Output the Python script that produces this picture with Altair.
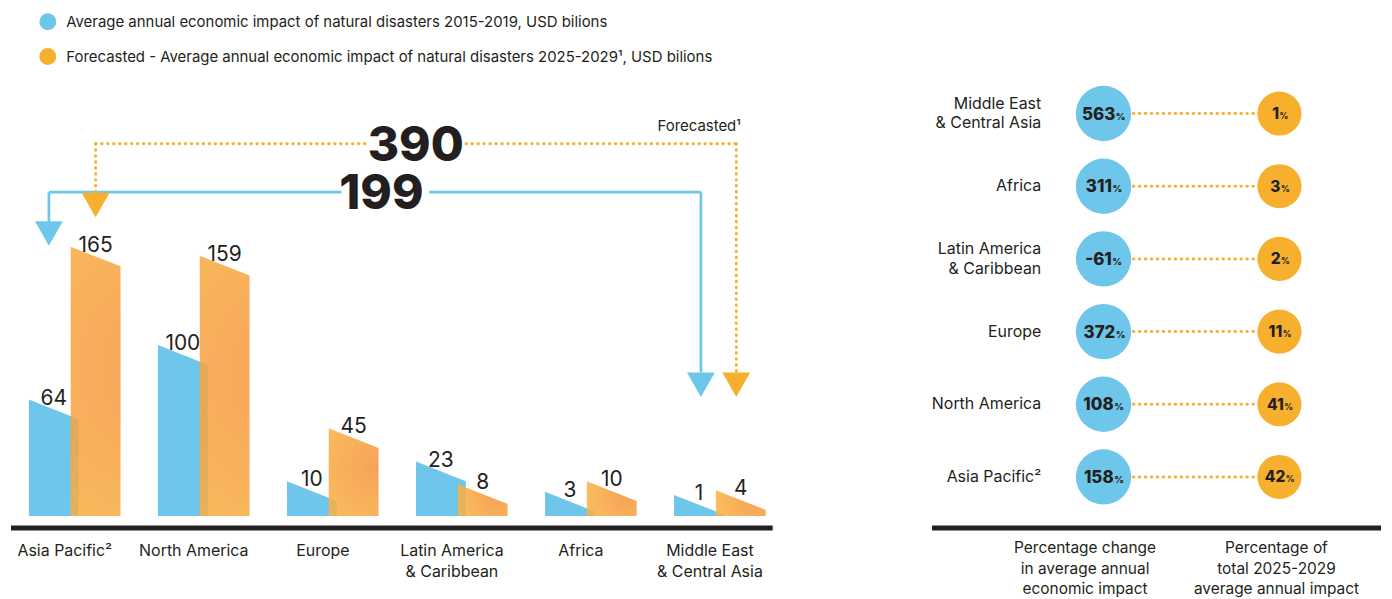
import altair as alt
import pandas as pd

# ---------------- data ----------------
REGIONS = ["Asia Pacific", "North America", "Europe", "Latin America", "Africa", "Middle East"]
REGION_LABELS = ["Asia Pacific²", "North America", "Europe", "Latin America\n& Caribbean",
                 "Africa", "Middle East\n& Central Asia"]
IMPACT_2015_2019 = [64, 100, 10, 23, 3, 1]
IMPACT_2025_2029 = [165, 159, 45, 8, 10, 4]
TOTAL_2015_2019 = 199
TOTAL_2025_2029 = 390
PCT_CHANGE = [158, 108, 372, -61, 311, 563]
PCT_SHARE = [42, 41, 11, 2, 3, 1]
COLUMN_TITLES = ["Percentage change\nin average annual\neconomic impact",
                 "Percentage of\ntotal 2025-2029\naverage annual impact"]
LEG_HIST = "Average annual economic impact of natural disasters 2015-2019, USD bilions"
LEG_FCST = "Forecasted - Average annual economic impact of natural disasters 2025-2029¹, USD bilions"

# ---------------- style ----------------
BLUE = "#6FC6EB"
ORANGE = "#F7B02E"
INK = "#231F20"
FONT = "Inter"

# left panel geometry
LEFT_W, H = 782, 583
PX_PER_CAT, CAT0_PX = 129.6, 64
PX_PER_UNIT, BASE_PX = 1.52, 509
SLANT = 13
xs = alt.Scale(domain=[-CAT0_PX / PX_PER_CAT, (LEFT_W - CAT0_PX) / PX_PER_CAT], nice=False, zero=False)
ys = alt.Scale(domain=[-(H - BASE_PX) / PX_PER_UNIT, BASE_PX / PX_PER_UNIT], nice=False, zero=False)

BL, BR, OL, OR = -0.355, 0.031, -0.031, 0.355

blue_rows, orange_rows, lab_rows = [], [], []
for i, r in enumerate(REGIONS):
    b, o = IMPACT_2015_2019[i], IMPACT_2025_2029[i]
    blue_rows += [dict(region=r, series=LEG_HIST, x=i + BL, top=b + SLANT, base=0),
                  dict(region=r, series=LEG_HIST, x=i + BR, top=b, base=0)]
    orange_rows += [dict(region=r, x=i + OL, top=o + SLANT, base=0),
                    dict(region=r, x=i + OR, top=o, base=0)]
    lab_rows += [dict(x=i + (BL + BR) / 2, y=b + SLANT, t=str(b)),
                 dict(x=i + (OL + OR) / 2, y=o + SLANT, t=str(o))]
blue_df = pd.DataFrame(blue_rows)
orange_df = pd.DataFrame(orange_rows)
lab_df = pd.DataFrame(lab_rows)
cat_df = pd.DataFrame(dict(x=[i - 0.077 for i in range(len(REGIONS))], y=[-26.2] * len(REGIONS),
                           t=REGION_LABELS))

# flow annotation (totals)
n_last = len(REGIONS) - 1
B_LEFT, B_RIGHT, B_LEVEL = -0.2, n_last - 0.147, 214
O_LEFT, O_RIGHT, O_LEVEL = 0.162, n_last + 0.127, 246
ARROW_TOP_L_B, ARROW_TOP_L_O, ARROW_TOP_R = 194.3, 213.8, 94.9
blue_seg = pd.DataFrame([
    dict(x=B_LEFT, x2=2.068, y=B_LEVEL, y2=B_LEVEL),
    dict(x=2.747, x2=B_RIGHT, y=B_LEVEL, y2=B_LEVEL),
    dict(x=B_LEFT, x2=B_LEFT, y=B_LEVEL, y2=ARROW_TOP_L_B),
    dict(x=B_RIGHT, x2=B_RIGHT, y=B_LEVEL, y2=ARROW_TOP_R),
])
orange_seg = pd.DataFrame([
    dict(x=O_LEFT, x2=2.261, y=O_LEVEL, y2=O_LEVEL),
    dict(x=3.032, x2=O_RIGHT, y=O_LEVEL, y2=O_LEVEL),
    dict(x=O_LEFT, x2=O_LEFT, y=O_LEVEL, y2=ARROW_TOP_L_O),
    dict(x=O_RIGHT, x2=O_RIGHT, y=O_LEVEL, y2=ARROW_TOP_R),
])
blue_arrow = pd.DataFrame(dict(x=[B_LEFT, B_RIGHT], y=[186.7, 86.8]))
orange_arrow = pd.DataFrame(dict(x=[O_LEFT, O_RIGHT], y=[205.5, 86.8]))
totals_df = pd.DataFrame(dict(x=[2.377, 2.643], y=[B_LEVEL, O_LEVEL],
                              t=[str(TOTAL_2015_2019), str(TOTAL_2025_2029)]))
fc_df = pd.DataFrame(dict(x=[5.162], y=[257.9], t=["Forecasted¹"]))
base_df = pd.DataFrame(dict(x=[xs.domain[0]], x2=[5.409], y=[-7.9]))

X = lambda f="x": alt.X(f"{f}:Q", scale=xs, axis=None)
Y = lambda f="y": alt.Y(f"{f}:Q", scale=ys, axis=None)

blue_area = alt.Chart(blue_df).mark_area(interpolate="linear", opacity=1).encode(
    x=X(), y=Y("top"), y2="base:Q", detail="region:N",
    color=alt.Color("series:N",
                    scale=alt.Scale(domain=[LEG_HIST, LEG_FCST], range=[BLUE, ORANGE]),
                    legend=alt.Legend(title=None, orient="none", legendX=28, legendY=3.5,
                                      direction="vertical", symbolType="circle", symbolSize=290,
                                      symbolOpacity=1, symbolStrokeWidth=0, labelFont=FONT,
                                      labelFontSize=15, labelColor=INK, labelLimit=900,
                                      labelOffset=9.5, rowPadding=17, padding=0)))

grad = alt.RadialGradient(gradient="radial",
                          stops=[alt.GradientStop(offset=0, color="#F6933F"),
                                 alt.GradientStop(offset=1, color="#F8B445")],
                          x1=0.8, y1=0.45, r1=0, x2=0.8, y2=0.45, r2=0.8)
orange_area = alt.Chart(orange_df).mark_area(interpolate="linear", color=grad, opacity=0.87).encode(
    x=X(), y=Y("top"), y2="base:Q", detail="region:N")

val_text = alt.Chart(lab_df).mark_text(font=FONT, fontSize=21, color=INK, baseline="alphabetic",
                                       dy=5).encode(x=X(), y=Y(), text="t:N")

b_lines = alt.Chart(blue_seg).mark_rule(color=BLUE, strokeWidth=2.7).encode(
    x=X(), x2="x2:Q", y=Y(), y2="y2:Q")
o_lines = alt.Chart(orange_seg).mark_rule(color=ORANGE, strokeWidth=3, strokeCap="round",
                                          strokeDash=[0.5, 5.5]).encode(
    x=X(), x2="x2:Q", y=Y(), y2="y2:Q")
TRI = "M-1,-0.88L1,-0.88L0,0.88Z"
b_arr = alt.Chart(blue_arrow).mark_point(shape=TRI, size=784, filled=True, opacity=1,
                                         color=BLUE, strokeWidth=0).encode(x=X(), y=Y())
o_arr = alt.Chart(orange_arrow).mark_point(shape=TRI, size=784, filled=True, opacity=1,
                                           color=ORANGE, strokeWidth=0).encode(x=X(), y=Y())
tot_text = alt.Chart(totals_df).mark_text(font=FONT, fontSize=48, fontWeight=800, color=INK,
                                          baseline="alphabetic", dy=17).encode(
    x=X(), y=Y(), text="t:N")
fc_text = alt.Chart(fc_df).mark_text(font=FONT, fontSize=15, color=INK, align="right",
                                     baseline="middle").encode(x=X(), y=Y(), text="t:N")
cat_text = alt.Chart(cat_df).mark_text(font=FONT, fontSize=16, color=INK, baseline="alphabetic",
                                       lineBreak="\n", lineHeight=21).encode(
    x=X(), y=Y(), text="t:N")
base_rule = alt.Chart(base_df).mark_rule(color=INK, strokeWidth=5).encode(
    x=X(), x2="x2:Q", y=Y())

left = alt.layer(blue_area, orange_area, val_text, b_lines, o_lines, b_arr, o_arr,
                 tot_text, fc_text, cat_text, base_rule).properties(width=LEFT_W, height=H)

# ---------------- right panel ----------------
RIGHT_W = 451
COL_PX, COL0_PX = 176.7, 172.3
xs2 = alt.Scale(domain=[-COL0_PX / COL_PX, (RIGHT_W - COL0_PX) / COL_PX], nice=False, zero=False)
row_order = REGIONS[::-1]
ys2 = alt.Scale(type="point", domain=row_order, range=[104.7, 469.7], padding=0)


def text_w(s, digit, one, minus):
    return sum(one if c == "1" else minus if c == "-" else digit for c in s)


r_rows = []
for i, r in enumerate(REGIONS):
    c, s = str(PCT_CHANGE[i]), str(PCT_SHARE[i])
    wc, ws = text_w(c, 10.7, 7.2, 7.0), text_w(s, 9.6, 6.5, 6.0)
    r_rows.append(dict(region=r, label=REGION_LABELS[i], lines=REGION_LABELS[i].count("\n") + 1,
                       c=c, s=s, a=0, b=1, lx=-0.354,
                       ca=(wc - 8.3) / 2 / COL_PX, sa=1 + (ws - 7.5) / 2 / COL_PX, pct="%"))
rdf = pd.DataFrame(r_rows)

X2 = lambda f: alt.X(f"{f}:Q", scale=xs2, axis=None)
Y2 = alt.Y("region:N", scale=ys2, axis=None)

conn = alt.Chart(rdf).mark_rule(color=ORANGE, strokeWidth=3, strokeCap="round",
                                strokeDash=[0.5, 5.5]).encode(x=X2("a"), x2="b:Q", y=Y2)
c_blue = alt.Chart(rdf).mark_circle(size=3088, color=BLUE, opacity=1).encode(x=X2("a"), y=Y2)
c_or = alt.Chart(rdf).mark_circle(size=1963, color=ORANGE, opacity=1).encode(x=X2("b"), y=Y2)
n_blue = alt.Chart(rdf).mark_text(font=FONT, fontSize=17, fontWeight=800, color=INK, align="right",
                                  baseline="alphabetic", dy=6).encode(x=X2("ca"), y=Y2, text="c:N")
p_blue = alt.Chart(rdf).mark_text(font=FONT, fontSize=9.5, fontWeight=800, color=INK, align="left",
                                  baseline="alphabetic", dy=6, dx=0.5).encode(x=X2("ca"), y=Y2, text="pct:N")
n_or = alt.Chart(rdf).mark_text(font=FONT, fontSize=15.5, fontWeight=800, color=INK, align="right",
                                baseline="alphabetic", dy=5.5).encode(x=X2("sa"), y=Y2, text="s:N")
p_or = alt.Chart(rdf).mark_text(font=FONT, fontSize=8.5, fontWeight=800, color=INK, align="left",
                                baseline="alphabetic", dy=5.5, dx=0.5).encode(x=X2("sa"), y=Y2, text="pct:N")
r_lab1 = alt.Chart(rdf).transform_filter("datum.lines == 1").mark_text(
    font=FONT, fontSize=16, color=INK, align="right", baseline="middle").encode(
    x=X2("lx"), y=Y2, text="label:N")
r_lab2 = alt.Chart(rdf).transform_filter("datum.lines == 2").mark_text(
    font=FONT, fontSize=16, color=INK, align="right", baseline="middle", dy=-10,
    lineBreak="\n", lineHeight=20).encode(x=X2("lx"), y=Y2, text="label:N")

title_df = pd.DataFrame(dict(x=[-0.105, 0.983], t=COLUMN_TITLES))
col_titles = alt.Chart(title_df).mark_text(font=FONT, fontSize=15.5, color=INK, baseline="middle",
                                           lineBreak="\n", lineHeight=20.5).encode(
    x=X2("x"), y=alt.value(541.5), text="t:N")
rbase_df = pd.DataFrame(dict(x=[xs2.domain[0]], x2=[xs2.domain[1]]))
r_base = alt.Chart(rbase_df).mark_rule(color=INK, strokeWidth=5).encode(
    x=X2("x"), x2="x2:Q", y=alt.value(521))

right = alt.layer(conn, c_blue, c_or, n_blue, p_blue, n_or, p_or, r_lab1, r_lab2,
                  col_titles, r_base).properties(width=RIGHT_W, height=H)

chart = alt.hconcat(left, right, spacing=143, bounds="flush").properties(
    padding=0).configure_view(strokeWidth=0, stroke="transparent")

chart.save("out.html", embed_options={"renderer": "svg", "actions": False})
